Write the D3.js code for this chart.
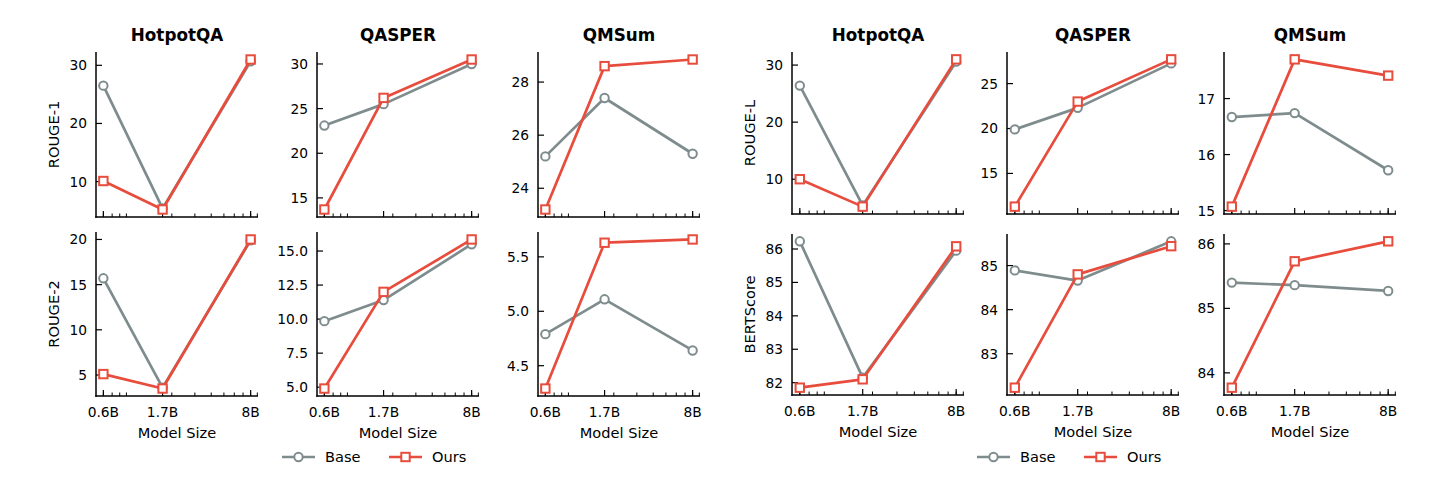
<!DOCTYPE html>
<html>
<head>
<meta charset="utf-8">
<script src="https://cdn.jsdelivr.net/npm/d3@7"></script>
<style>
  html, body { margin: 0; padding: 0; background: #fff; }
  svg { display: block; font-family: "DejaVu Sans", sans-serif; }
</style>
</head>
<body>
<div id="chart"></div>
<script>
// ---- data ----
const sizes = [0.6, 1.7, 8];
const sizeLabels = ["0.6B", "1.7B", "8B"];
const datasets = ["HotpotQA", "QASPER", "QMSum"];
const seriesNames = ["Base", "Ours"];

// rows: dataset, cols: model size
const rouge1Base = [[26.5, 5.4, 30.7], [23.1, 25.5, 30.0], [25.2, 27.4, 25.3]];
const rouge1Ours = [[10.1, 5.2, 31.0], [13.7, 26.2, 30.5], [23.2, 28.6, 28.85]];
const rouge2Base = [[15.7, 3.6, 19.9], [9.85, 11.4, 15.5], [4.79, 5.11, 4.64]];
const rouge2Ours = [[5.1, 3.5, 20.0], [4.9, 12.0, 15.85], [4.29, 5.63, 5.66]];
const rougeLBase = [[26.4, 5.4, 30.6], [19.9, 22.3, 27.25], [16.67, 16.74, 15.72]];
const rougeLOurs = [[10.0, 5.2, 31.0], [11.3, 23.0, 27.7], [15.07, 17.7, 17.41]];
const bertBase = [[86.23, 82.15, 85.95], [84.89, 84.66, 85.55], [85.4, 85.36, 85.27]];
const bertOurs = [[81.85, 82.1, 86.08], [82.23, 84.8, 85.44], [83.77, 85.73, 86.04]];

// y tick values per panel (dataset order)
const rouge1Ticks = [[10, 20, 30], [15, 20, 25, 30], [24, 26, 28]];
const rouge2Ticks = [[5, 10, 15, 20], [5, 7.5, 10, 12.5, 15], [4.5, 5, 5.5]];
const rougeLTicks = [[10, 20, 30], [15, 20, 25], [15, 16, 17]];
const bertTicks = [[82, 83, 84, 85, 86], [83, 84, 85], [84, 85, 86]];

// ---- layout ----
const W = 1440, H = 501;
const colors = { Base: "#7f8c8d", Ours: "#e74c3c" };

const groups = [
  {
    lefts: [96, 317, 538], width: 162,
    rows: [[52, 217], [232, 396]],
    metrics: [
      { label: "ROUGE-1", base: rouge1Base, ours: rouge1Ours, ticks: rouge1Ticks },
      { label: "ROUGE-2", base: rouge2Base, ours: rouge2Ours, ticks: rouge2Ticks }
    ],
    legend: { base: 282, ours: 389 }
  },
  {
    lefts: [792, 1007, 1224], width: 172,
    rows: [[52, 214], [234, 395]],
    metrics: [
      { label: "ROUGE-L", base: rougeLBase, ours: rougeLOurs, ticks: rougeLTicks },
      { label: "BERTScore", base: bertBase, ours: bertOurs, ticks: bertTicks }
    ],
    legend: { base: 977, ours: 1084 }
  }
];

const svg = d3.select("#chart").append("svg")
  .attr("width", W).attr("height", H);
svg.append("rect").attr("width", W).attr("height", H).attr("fill", "#fff");

// matplotlib-like 5% margins in log space
const lx = d3.extent(sizes).map(Math.log10);
const padX = (lx[1] - lx[0]) * 0.05;
const xDomain = [Math.pow(10, lx[0] - padX), Math.pow(10, lx[1] + padX)];

function drawMarker(g, name, x, y) {
  if (name === "Base") {
    g.append("circle").attr("cx", x).attr("cy", y).attr("r", 4.2)
      .attr("fill", "#fff").attr("stroke", colors.Base).attr("stroke-width", 2);
  } else {
    g.append("rect").attr("x", x - 4.2).attr("y", y - 4.2).attr("width", 8.4).attr("height", 8.4)
      .attr("fill", "#fff").attr("stroke", colors.Ours).attr("stroke-width", 2);
  }
}

groups.forEach(grp => {
  grp.metrics.forEach((m, ri) => {
    const [top, bottom] = grp.rows[ri];
    datasets.forEach((ds, ci) => {
      const left = grp.lefts[ci];
      const right = left + grp.width;
      const x = d3.scaleLog().domain(xDomain).range([left, right]);

      const vals = m.base[ci].concat(m.ours[ci]);
      const [mn, mx] = d3.extent(vals);
      const pad = (mx - mn) * 0.05;
      const y = d3.scaleLinear().domain([mn - pad, mx + pad]).range([bottom, top]);

      const g = svg.append("g");

      // minor x ticks (log subs), skip decade 1 as matplotlib does with fixed majors
      const minors = x.ticks().filter(t => Math.abs(t - 1) > 1e-9);
      g.selectAll("line.minor").data(minors).enter().append("line")
        .attr("x1", d => x(d)).attr("x2", d => x(d))
        .attr("y1", bottom).attr("y2", bottom - 3.5)
        .attr("stroke", "#000").attr("stroke-width", 1);

      // major x ticks
      g.selectAll("line.major").data(sizes).enter().append("line")
        .attr("x1", d => x(d)).attr("x2", d => x(d))
        .attr("y1", bottom).attr("y2", bottom - 6)
        .attr("stroke", "#000").attr("stroke-width", 1.2);

      if (ri === 1) {
        g.selectAll("text.xl").data(sizes).enter().append("text")
          .attr("x", d => x(d)).attr("y", bottom + 20.5)
          .attr("text-anchor", "middle").attr("font-size", 13.8).attr("fill", "#000")
          .text((d, i) => sizeLabels[i]);
        g.append("text")
          .attr("x", (left + right) / 2).attr("y", bottom + 41.5)
          .attr("text-anchor", "middle").attr("font-size", 14.6).attr("fill", "#000")
          .text("Model Size");
      }

      // y ticks
      const ticks = m.ticks[ci];
      const fmt = ticks.some(t => !Number.isInteger(t)) ? d3.format(".1f") : d3.format("d");
      g.selectAll("line.yt").data(ticks).enter().append("line")
        .attr("x1", left).attr("x2", left + 6)
        .attr("y1", d => y(d)).attr("y2", d => y(d))
        .attr("stroke", "#000").attr("stroke-width", 1.2);
      g.selectAll("text.yl").data(ticks).enter().append("text")
        .attr("x", left - 9).attr("y", d => y(d)).attr("dy", "0.36em")
        .attr("text-anchor", "end").attr("font-size", 13.8).attr("fill", "#000")
        .text(fmt);

      // spines
      g.append("line").attr("x1", left).attr("x2", left).attr("y1", top).attr("y2", bottom + 0.75)
        .attr("stroke", "#000").attr("stroke-width", 1.5);
      g.append("line").attr("x1", left - 0.75).attr("x2", right).attr("y1", bottom).attr("y2", bottom)
        .attr("stroke", "#000").attr("stroke-width", 1.5);

      if (ci === 0) {
        const cy = (top + bottom) / 2;
        g.append("text")
          .attr("transform", `translate(${left - 42},${cy}) rotate(-90)`)
          .attr("text-anchor", "middle").attr("dy", "0.36em")
          .attr("font-size", 14.6).attr("fill", "#000")
          .text(m.label);
      }
      if (ri === 0) {
        g.append("text")
          .attr("x", (left + right) / 2).attr("y", 40.5)
          .attr("text-anchor", "middle").attr("font-size", 16.8).attr("font-weight", "bold")
          .attr("fill", "#000").text(ds);
      }

      // series
      const line = d3.line().x(d => x(d.s)).y(d => y(d.v));
      [["Base", m.base[ci]], ["Ours", m.ours[ci]]].forEach(([name, arr]) => {
        const pts = arr.map((v, i) => ({ s: sizes[i], v }));
        g.append("path").datum(pts)
          .attr("d", line).attr("fill", "none")
          .attr("stroke", colors[name]).attr("stroke-width", 2.7)
          .attr("stroke-linejoin", "round");
        pts.forEach(p => drawMarker(g, name, x(p.s), y(p.v)));
      });
    });
  });

  // legend
  const ly = 457;
  seriesNames.forEach(name => {
    const x0 = name === "Base" ? grp.legend.base : grp.legend.ours;
    const lg = svg.append("g");
    lg.append("line").attr("x1", x0).attr("x2", x0 + 33).attr("y1", ly).attr("y2", ly)
      .attr("stroke", colors[name]).attr("stroke-width", 2.7);
    drawMarker(lg, name, x0 + 16.5, ly);
    lg.append("text").attr("x", x0 + 43).attr("y", ly).attr("dy", "0.36em")
      .attr("font-size", 14.6).attr("fill", "#000").text(name);
  });
});
</script>
</body>
</html>
